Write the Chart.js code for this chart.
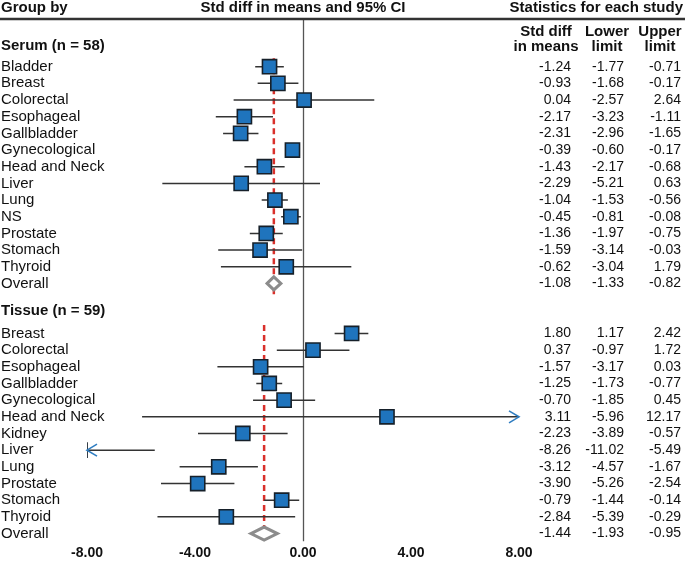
<!DOCTYPE html>
<html>
<head>
<meta charset="utf-8">
<script src="https://cdn.jsdelivr.net/npm/chart.js@4/dist/chart.umd.min.js"></script>
<style>
  html, body { margin: 0; padding: 0; background: #fff; }
  #wrap { width: 685px; height: 566px; }
</style>
</head>
<body>
<div id="wrap"><canvas id="c" width="685" height="566"></canvas></div>
<script>
// ---- data ----
const serumLabels = ['Bladder','Breast','Colorectal','Esophageal','Gallbladder','Gynecological','Head and Neck','Liver','Lung','NS','Prostate','Stomach','Thyroid'];
const serumMean  = [-1.24,-0.93,0.04,-2.17,-2.31,-0.39,-1.43,-2.29,-1.04,-0.45,-1.36,-1.59,-0.62];
const serumLower = [-1.77,-1.68,-2.57,-3.23,-2.96,-0.60,-2.17,-5.21,-1.53,-0.81,-1.97,-3.14,-3.04];
const serumUpper = [-0.71,-0.17,2.64,-1.11,-1.65,-0.17,-0.68,0.63,-0.56,-0.08,-0.75,-0.03,1.79];
const serumOverall = [-1.08,-1.33,-0.82];

const tissueLabels = ['Breast','Colorectal','Esophageal','Gallbladder','Gynecological','Head and Neck','Kidney','Liver','Lung','Prostate','Stomach','Thyroid'];
const tissueMean  = [1.80,0.37,-1.57,-1.25,-0.70,3.11,-2.23,-8.26,-3.12,-3.90,-0.79,-2.84];
const tissueLower = [1.17,-0.97,-3.17,-1.73,-1.85,-5.96,-3.89,-11.02,-4.57,-5.26,-1.44,-5.39];
const tissueUpper = [2.42,1.72,0.03,-0.77,0.45,12.17,-0.57,-5.49,-1.67,-2.54,-0.14,-0.29];
const tissueOverall = [-1.44,-1.93,-0.95];

const groupNames = ['Serum (n = 58)','Tissue (n = 59)'];
const tickValues = [-8,-4,0,4,8];
const tickLabels = ['-8.00','-4.00','0.00','4.00','8.00'];

// ---- row layout (row index on the y scale) ----
const serumStart = 0, tissueStart = 16;
const serumOverallRow = serumStart + serumLabels.length;     // 13
const tissueOverallRow = tissueStart + tissueLabels.length;  // 28
const serumHeaderRow = -1.25, tissueHeaderRow = 14.65;

const rows = [];
serumLabels.forEach((l,i)=>rows.push({label:l, row:serumStart+i, m:serumMean[i], lo:serumLower[i], hi:serumUpper[i]}));
tissueLabels.forEach((l,i)=>rows.push({label:l, row:tissueStart+i, m:tissueMean[i], lo:tissueLower[i], hi:tissueUpper[i]}));
const overalls = [
  {label:'Overall', row:serumOverallRow, m:serumOverall[0], lo:serumOverall[1], hi:serumOverall[2]},
  {label:'Overall', row:tissueOverallRow, m:tissueOverall[0], lo:tissueOverall[1], hi:tissueOverall[2]}
];

const ciData = [];
rows.forEach(r => { ciData.push({x:r.lo,y:r.row}); ciData.push({x:r.hi,y:r.row}); ciData.push({x:null,y:null}); });
const squareData = rows.map(r => ({x:r.m, y:r.row}));

const FONT = "'Liberation Sans', Arial, Helvetica, sans-serif";
const BLUE = '#1f74bd';

const textPlugin = {
  id: 'forestText',
  beforeDatasetsDraw(chart) {
    const ctx = chart.ctx, xs = chart.scales.x, ca = chart.chartArea;
    ctx.save();
    const x0 = Math.round(xs.getPixelForValue(0)) + 0.5;
    ctx.strokeStyle = '#555'; ctx.lineWidth = 1.3;
    ctx.beginPath(); ctx.moveTo(x0, ca.top); ctx.lineTo(x0, ca.bottom); ctx.stroke();
    ctx.restore();
  },
  afterDatasetsDraw(chart) {
    const ctx = chart.ctx, xs = chart.scales.x, ys = chart.scales.y;
    ctx.save();
    // diamonds
    overalls.forEach(o => {
      const y = ys.getPixelForValue(o.row);
      const xl = xs.getPixelForValue(o.lo), xm = xs.getPixelForValue(o.m), xh = xs.getPixelForValue(o.hi);
      ctx.beginPath();
      ctx.moveTo(xl, y); ctx.lineTo(xm, y - 6.5); ctx.lineTo(xh, y); ctx.lineTo(xm, y + 6.5); ctx.closePath();
      ctx.fillStyle = '#fff'; ctx.fill();
      ctx.strokeStyle = '#8c8c8c'; ctx.lineWidth = 3; ctx.lineJoin = 'miter'; ctx.stroke();
    });
    // arrows for clipped intervals
    ctx.strokeStyle = '#2f7dc1'; ctx.lineWidth = 1.6;
    rows.forEach(r => {
      const y = ys.getPixelForValue(r.row);
      if (r.lo < xs.min) {
        const x = xs.getPixelForValue(xs.min);
        ctx.beginPath(); ctx.moveTo(x + 10, y - 6); ctx.lineTo(x, y); ctx.lineTo(x + 10, y + 6); ctx.stroke();
      }
      if (r.hi > xs.max) {
        const x = xs.getPixelForValue(xs.max);
        ctx.beginPath(); ctx.moveTo(x - 10, y - 6); ctx.lineTo(x, y); ctx.lineTo(x - 10, y + 6); ctx.stroke();
      }
    });
    // header
    ctx.fillStyle = '#111';
    ctx.textBaseline = 'middle';
    ctx.font = 'bold 15px ' + FONT;
    ctx.textAlign = 'left'; ctx.fillText('Group by', 1, 8);
    ctx.textAlign = 'center'; ctx.fillText('Std diff in means and 95% CI', xs.getPixelForValue(0), 8);
    ctx.textAlign = 'right'; ctx.fillText('Statistics for each study', 683, 8);
    ctx.strokeStyle = '#333'; ctx.lineWidth = 2.5;
    ctx.beginPath(); ctx.moveTo(0, 19); ctx.lineTo(685, 19); ctx.stroke();
    ctx.textAlign = 'center';
    ctx.fillText('Std diff', 546, 32); ctx.fillText('in means', 546, 47);
    ctx.fillText('Lower', 607, 32); ctx.fillText('limit', 607, 47);
    ctx.fillText('Upper', 660, 32); ctx.fillText('limit', 660, 47);
    ctx.textAlign = 'left';
    ctx.fillText(groupNames[0], 1, ys.getPixelForValue(serumHeaderRow));
    ctx.fillText(groupNames[1], 1, ys.getPixelForValue(tissueHeaderRow));
    // row labels + stats
    const all = rows.concat(overalls);
    all.forEach(r => {
      const y = ys.getPixelForValue(r.row);
      ctx.font = '15px ' + FONT; ctx.textAlign = 'left';
      ctx.fillText(r.label, 1, y);
      ctx.font = '14px ' + FONT; ctx.textAlign = 'right';
      ctx.fillText(r.m.toFixed(2), 571, y);
      ctx.fillText(r.lo.toFixed(2), 624, y);
      ctx.fillText(r.hi.toFixed(2), 681, y);
    });
    ctx.restore();
  }
};

new Chart(document.getElementById('c'), {
  type: 'scatter',
  data: {
    datasets: [
      { type:'scatter', data: squareData, pointStyle:'rect', pointRadius:10, pointHoverRadius:10,
        backgroundColor: BLUE, borderColor:'#16202a', borderWidth:1.6, clip:0, order:1 },
      { type:'line', data: ciData, borderColor:'#333', borderWidth:1.5, pointRadius:0, spanGaps:false, order:2 },
      { type:'line', data:[{x:serumOverall[0],y:serumStart-0.5},{x:serumOverall[0],y:serumOverallRow+0.75}],
        borderColor:'#d9302b', borderWidth:2.5, borderDash:[6,4], pointRadius:0, order:3 },
      { type:'line', data:[{x:tissueOverall[0],y:tissueStart-0.5},{x:tissueOverall[0],y:tissueOverallRow}],
        borderColor:'#d9302b', borderWidth:2.5, borderDash:[6,4], pointRadius:0, order:3 }
    ]
  },
  options: {
    responsive:false, animation:false, devicePixelRatio:1,
    layout: { padding: { left:87, right:166, top:20, bottom:0 } },
    plugins: { legend:{display:false}, tooltip:{enabled:false} },
    scales: {
      x: { type:'linear', min:-8, max:8,
        grid:{display:false, drawTicks:false}, border:{display:false},
        afterBuildTicks: s => { s.ticks = tickValues.map(v => ({value:v})); },
        ticks:{ autoSkip:false, maxRotation:0, padding:4, color:'#111',
          font:{family:FONT, size:14, weight:'bold'},
          callback:(v,i)=>tickLabels[i] } },
      y: { type:'linear', reverse:true, min:-2.8, max:28.46, display:false }
    }
  },
  plugins:[textPlugin]
});
</script>
</body>
</html>
